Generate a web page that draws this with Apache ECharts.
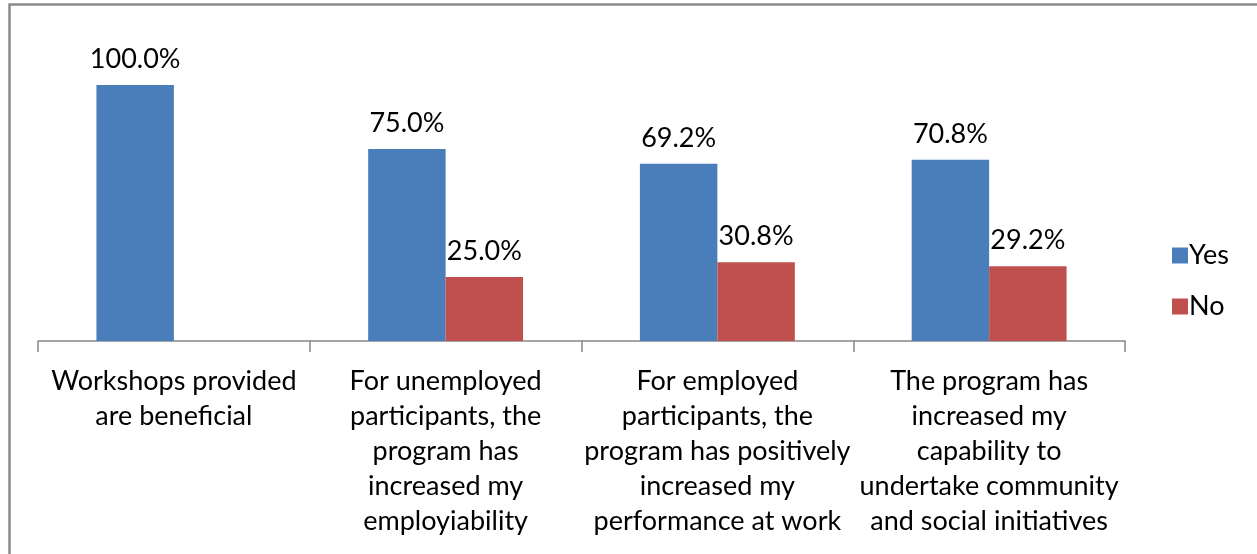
<!DOCTYPE html>
<html>
<head>
<meta charset="utf-8">
<script src="https://cdn.jsdelivr.net/npm/echarts@6/dist/echarts.min.js"></script>
<style>
  html, body { margin: 0; padding: 0; background: #fff; }
  #chart { width: 1257px; height: 554px; }
</style>
</head>
<body>
<div id="chart"></div>
<script>
// Survey responses (percent of participants)
const categories = [
  'Workshops provided\nare beneficial',
  'For unemployed\nparticipants, the\nprogram has\nincreased my\nemployiability',
  'For employed\nparticipants, the\nprogram has positively\nincreased my\nperformance at work',
  'The program has\nincreased my\ncapability to\nundertake community\nand social initiatives'
];
const yesValues = [100.0, 75.0, 69.2, 70.8];
const noValues = [null, 25.0, 30.8, 29.2];

const FONT = 'Lato';

const chart = echarts.init(document.getElementById('chart'), null, { renderer: 'canvas' });

const labelStyle = {
  show: true,
  position: 'top',
  distance: 12,
  color: '#000',
  fontFamily: FONT,
  fontSize: 27,
  formatter: p => p.value == null ? '' : p.value.toFixed(1) + '%'
};

chart.setOption({
  animation: false,
  backgroundColor: '#fff',
  graphic: [{
    type: 'rect',
    silent: true,
    shape: { x: 9.5, y: 4.5, width: 1400, height: 800 },
    style: { fill: 'none', stroke: '#8a8a8a', lineWidth: 2.5 }
  }],
  grid: { left: 38, right: 132, top: 85, bottom: 213 },
  legend: {
    orient: 'vertical',
    left: 1167,
    top: 237,
    itemWidth: 16,
    itemHeight: 16,
    itemGap: 24,
    icon: 'rect',
    textStyle: { fontFamily: FONT, fontSize: 27, color: '#000', padding: [0, 0, 0, -4] },
    data: ['Yes', 'No']
  },
  xAxis: {
    type: 'category',
    data: categories,
    axisLine: { lineStyle: { color: '#888', width: 1.5 } },
    axisTick: { show: true, length: 11, lineStyle: { color: '#888', width: 1.5 } },
    axisLabel: {
      interval: 0,
      margin: 23,
      color: '#000',
      fontFamily: FONT,
      fontSize: 27,
      lineHeight: 35,
      align: 'center'
    }
  },
  yAxis: {
    type: 'value',
    min: 0,
    max: 100,
    show: false
  },
  series: [
    {
      name: 'Yes',
      type: 'bar',
      data: yesValues,
      barGap: '0%',
      barCategoryGap: '43%',
      itemStyle: { color: '#4A7EBB' },
      label: labelStyle
    },
    {
      name: 'No',
      type: 'bar',
      data: noValues,
      itemStyle: { color: '#C0504D' },
      label: labelStyle
    }
  ]
});
</script>
</body>
</html>
